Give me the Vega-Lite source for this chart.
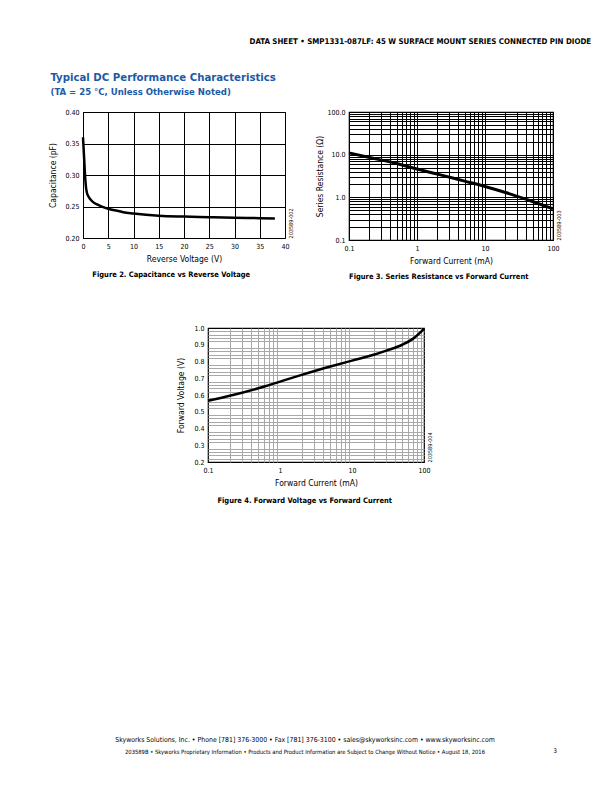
{
  "$schema": "https://vega.github.io/schema/vega-lite/v6.json",
  "background": "white",
  "padding": {"left": 48, "top": 37, "right": 0, "bottom": 0},
  "config": {
    "font": "Liberation Sans Narrow, Arial Narrow, DejaVu Sans Condensed, sans-serif",
    "view": {"stroke": null},
    "axis": {"labelFontSize": 7, "labelColor": "#000", "titleFontSize": 8.5, "titleFontWeight": "normal", "titleColor": "#000", "ticks": false, "domain": false, "gridColor": "#000", "gridOpacity": 1, "gridWidth": 1, "labelPadding": 4, "labelFlush": false, "labelOverlap": false, "titlePadding": 5},
    "title": {"fontWeight": "bold", "color": "#000", "fontSize": 7.5, "offset": 8}
  },
  "title": {"text": "DATA SHEET  •  SMP1331-087LF: 45 W SURFACE MOUNT SERIES CONNECTED PIN DIODE", "anchor": "end", "frame": "bounds", "dx": 29, "offset": 26, "fontSize": 7.85},
  "spacing": 42,
  "vconcat": [
    {
      "title": {"text": "Typical DC Performance Characteristics", "subtitle": "(TA = 25 °C, Unless Otherwise Noted)", "anchor": "start", "frame": "bounds", "dx": 2, "offset": 11, "fontSize": 11.3, "color": "#1d5aa6", "subtitleColor": "#1d5aa6", "subtitleFontSize": 9.5, "subtitleFontWeight": "bold", "subtitlePadding": 4},
      "bounds": "flush",
      "spacing": 64,
      "hconcat": [
        {
          "width": 202, "height": 126,
          "view": {"stroke": "black", "strokeWidth": 1},
          "data": {"values": [
            {"v": 0, "c": 0.36}, {"v": 0.2, "c": 0.33}, {"v": 0.4, "c": 0.3}, {"v": 0.6, "c": 0.28}, {"v": 0.8, "c": 0.271},
            {"v": 1, "c": 0.267}, {"v": 1.5, "c": 0.261}, {"v": 2, "c": 0.257}, {"v": 3, "c": 0.2525}, {"v": 4, "c": 0.249},
            {"v": 5, "c": 0.2465}, {"v": 6, "c": 0.2445}, {"v": 7, "c": 0.243}, {"v": 8, "c": 0.241}, {"v": 10, "c": 0.239},
            {"v": 15, "c": 0.2355}, {"v": 20, "c": 0.234}, {"v": 25, "c": 0.233}, {"v": 30, "c": 0.232}, {"v": 35, "c": 0.2315}, {"v": 38, "c": 0.231}
          ]},
          "title": {"text": "Figure 2. Capacitance vs Reverse Voltage", "orient": "bottom", "anchor": "middle", "frame": "bounds", "offset": 8},
          "layer": [
            {
              "mark": {"type": "line", "color": "black", "strokeWidth": 2.5, "interpolate": "monotone"},
              "encoding": {
                "x": {"field": "v", "type": "quantitative", "scale": {"domain": [0, 40], "nice": false}, "axis": {"orient": "bottom", "values": [0, 5, 10, 15, 20, 25, 30, 35, 40], "format": "d", "title": "Reverse Voltage (V)"}},
                "y": {"field": "c", "type": "quantitative", "scale": {"domain": [0.2, 0.4], "zero": false, "nice": false}, "axis": {"orient": "left", "values": [0.2, 0.25, 0.3, 0.35, 0.4], "format": ".2f", "title": "Capacitance (pF)", "titlePadding": 7}}
              }
            },
            {
              "mark": {"type": "line", "opacity": 0},
              "encoding": {
                "x": {"field": "v", "type": "quantitative", "axis": null},
                "y": {"field": "c", "type": "quantitative", "axis": {"orient": "right", "title": "203589-002", "labels": false, "grid": false, "titleAngle": 270, "titleAnchor": "start", "titleBaseline": "top", "titleFontSize": 5.5, "titlePadding": 3}}
              }
            }
          ],
          "resolve": {"axis": {"x": "independent", "y": "independent"}}
        },
        {
          "width": 204, "height": 128,
          "view": {"stroke": "black", "strokeWidth": 1.2},
          "data": {"values": [
            {"i": 0.1, "r": 11.0}, {"i": 0.2, "r": 8.6}, {"i": 0.5, "r": 6.2}, {"i": 1, "r": 4.6}, {"i": 2, "r": 3.5},
            {"i": 5, "r": 2.4}, {"i": 10, "r": 1.8}, {"i": 20, "r": 1.3}, {"i": 50, "r": 0.8}, {"i": 100, "r": 0.54}
          ]},
          "title": {"text": "Figure 3. Series Resistance vs Forward Current", "orient": "bottom", "anchor": "middle", "frame": "bounds", "offset": 8},
          "layer": [
            {
              "mark": {"type": "line", "color": "black", "strokeWidth": 3, "interpolate": "monotone"},
              "encoding": {
                "x": {"field": "i", "type": "quantitative", "scale": {"type": "log", "domain": [0.1, 100], "nice": false}, "axis": {"orient": "bottom", "values": [0.1, 0.2, 0.3, 0.4, 0.5, 0.6, 0.7, 0.8, 0.9, 1, 2, 3, 4, 5, 6, 7, 8, 9, 10, 20, 30, 40, 50, 60, 70, 80, 90, 100], "labelExpr": "indexof([0.1, 1, 10, 100], datum.value) >= 0 ? format(datum.value, '~g') : ''", "title": "Forward Current (mA)"}},
                "y": {"field": "r", "type": "quantitative", "scale": {"type": "log", "domain": [0.1, 100], "nice": false}, "axis": {"orient": "left", "values": [0.1, 0.2, 0.3, 0.4, 0.5, 0.6, 0.7, 0.8, 0.9, 1, 2, 3, 4, 5, 6, 7, 8, 9, 10, 20, 30, 40, 50, 60, 70, 80, 90, 100], "labelExpr": "indexof([0.1, 1, 10, 100], datum.value) >= 0 ? format(datum.value, '.1f') : ''", "title": "Series Resistance (Ω)", "titlePadding": 2}}
              }
            },
            {
              "mark": {"type": "line", "opacity": 0},
              "encoding": {
                "x": {"field": "i", "type": "quantitative", "scale": {"type": "log"}, "axis": null},
                "y": {"field": "r", "type": "quantitative", "scale": {"type": "log"}, "axis": {"orient": "right", "title": "203589-003", "labels": false, "grid": false, "titleAngle": 270, "titleAnchor": "start", "titleBaseline": "top", "titleFontSize": 5.5, "titlePadding": 3}}
              }
            }
          ],
          "resolve": {"axis": {"x": "independent", "y": "independent"}}
        }
      ]
    },
    {
      "bounds": "flush",
      "spacing": 0,
      "hconcat": [
        {
          "width": 125, "height": 1,
          "data": {"values": []},
          "mark": "point",
          "encoding": {}
        },
        {
          "width": 216, "height": 134,
          "view": {"stroke": "black", "strokeWidth": 1.2},
          "data": {"values": [
            {"i": 0.1, "v": 0.565}, {"i": 0.2, "v": 0.595}, {"i": 0.5, "v": 0.64}, {"i": 1, "v": 0.68}, {"i": 2, "v": 0.72},
            {"i": 5, "v": 0.77}, {"i": 10, "v": 0.805}, {"i": 20, "v": 0.84}, {"i": 30, "v": 0.865}, {"i": 50, "v": 0.9},
            {"i": 70, "v": 0.935}, {"i": 100, "v": 0.995}
          ]},
          "title": {"text": "Figure 4. Forward Voltage vs Forward Current", "orient": "bottom", "anchor": "middle", "frame": "bounds", "offset": 10},
          "layer": [
            {
              "mark": {"type": "line", "opacity": 0},
              "encoding": {
                "x": {"field": "i", "type": "quantitative", "scale": {"type": "log", "domain": [0.1, 100], "nice": false}, "axis": {"orient": "bottom", "values": [0.2, 0.3, 0.4, 0.5, 0.6, 0.7, 0.8, 0.9, 2, 3, 4, 5, 6, 7, 8, 9, 20, 30, 40, 50, 60, 70, 80, 90], "labels": false, "title": null, "gridColor": "#a8a8a8"}},
                "y": {"field": "v", "type": "quantitative", "scale": {"domain": [0.2, 1.0], "zero": false, "nice": false}, "axis": {"orient": "left", "values": [0.22, 0.24, 0.26, 0.28, 0.32, 0.34, 0.36, 0.38, 0.42, 0.44, 0.46, 0.48, 0.52, 0.54, 0.56, 0.58, 0.62, 0.64, 0.66, 0.68, 0.72, 0.74, 0.76, 0.78, 0.82, 0.84, 0.86, 0.88, 0.92, 0.94, 0.96, 0.98], "labels": false, "title": null, "gridColor": "#a8a8a8"}}
              }
            },
            {
              "mark": {"type": "line", "color": "black", "strokeWidth": 2.5, "interpolate": "monotone"},
              "encoding": {
                "x": {"field": "i", "type": "quantitative", "scale": {"type": "log"}, "axis": {"orient": "bottom", "values": [0.1, 1, 10, 100], "format": "~g", "title": "Forward Current (mA)"}},
                "y": {"field": "v", "type": "quantitative", "axis": {"orient": "left", "values": [0.2, 0.3, 0.4, 0.5, 0.6, 0.7, 0.8, 0.9, 1.0], "format": ".1f", "title": "Forward Voltage (V)", "titlePadding": 8}}
              }
            },
            {
              "mark": {"type": "line", "opacity": 0},
              "encoding": {
                "x": {"field": "i", "type": "quantitative", "scale": {"type": "log"}, "axis": null},
                "y": {"field": "v", "type": "quantitative", "axis": {"orient": "right", "title": "203589-004", "labels": false, "grid": false, "titleAngle": 270, "titleAnchor": "start", "titleBaseline": "top", "titleFontSize": 5.5, "titlePadding": 3}}
              }
            }
          ],
          "resolve": {"axis": {"x": "independent", "y": "independent"}}
        }
      ]
    },
    {
      "title": {"text": "3", "orient": "bottom", "anchor": "end", "frame": "bounds", "dx": 30, "offset": -7, "fontSize": 6.5, "fontWeight": "normal"},
      "hconcat": [
        {
          "width": 444, "height": 190,
          "data": {"values": []},
          "mark": "point",
          "encoding": {},
          "title": {"text": "Skyworks Solutions, Inc.  •  Phone [781] 376-3000  •  Fax [781] 376-3100  •  sales@skyworksinc.com  •  www.skyworksinc.com", "subtitle": "203589B  •  Skyworks Proprietary Information  •  Products and Product Information are Subject to Change Without Notice  •  August 18, 2016", "orient": "bottom", "anchor": "middle", "frame": "group", "offset": 0, "fontSize": 6.9, "fontWeight": "normal", "subtitleFontSize": 5.8, "subtitleColor": "#000", "subtitlePadding": 5}
        }
      ]
    }
  ]
}
